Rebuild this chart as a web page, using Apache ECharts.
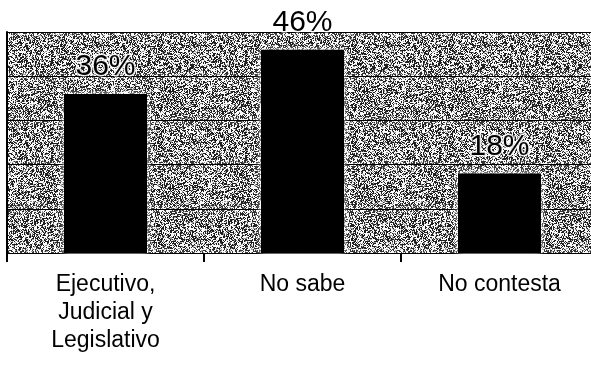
<!DOCTYPE html>
<html>
<head>
<meta charset="utf-8">
<script src="https://cdn.jsdelivr.net/npm/echarts@6/dist/echarts.min.js"></script>
<style>
  html, body { margin: 0; padding: 0; background: #fff; overflow: hidden; }
  /* the plot runs a few pixels past the right edge of the page */
  #chart { width: 598px; height: 368px; }
</style>
</head>
<body>
<div id="chart"></div>
<script>
// Survey answers and their shares (percent)
const categories = ['Ejecutivo,\nJudicial y\nLegislativo', 'No sabe', 'No contesta'];
const shares = [36, 46, 18];
const axisMax = 50;
const axisStep = 10;

// Stippled grey fill for the plot area, built from a fixed integer hash
function stippleTile(size) {
  const c = document.createElement('canvas');
  c.width = size; c.height = size;
  const ctx = c.getContext('2d');
  const img = ctx.createImageData(size, size);
  for (let y = 0; y < size; y++) {
    for (let x = 0; x < size; x++) {
      let h = (x * 374761393 + y * 668265263) | 0;
      h = Math.imul(h ^ (h >>> 13), 1274126177);
      h = (h ^ (h >>> 16)) >>> 0;
      const v = (h & 1023) / 1023;
      const g = v < 0.40 ? 30 : (v < 0.55 ? 150 : 250);
      const i = (y * size + x) * 4;
      img.data[i] = g; img.data[i + 1] = g; img.data[i + 2] = g; img.data[i + 3] = 255;
    }
  }
  ctx.putImageData(img, 0, 0);
  return c;
}

const chart = echarts.init(document.getElementById('chart'), null, { renderer: 'canvas' });
chart.setOption({
  animation: false,
  backgroundColor: '#fff',
  grid: {
    left: 7, right: 0, top: 32, bottom: 115,
    show: true,
    borderWidth: 0,
    backgroundColor: { image: stippleTile(97), repeat: 'repeat' }
  },
  xAxis: {
    type: 'category',
    data: categories,
    axisLine: { show: true, lineStyle: { color: '#000', width: 1 } },
    axisTick: { show: true, alignWithLabel: false, length: 9, lineStyle: { color: '#000', width: 2 } },
    axisLabel: {
      color: '#000', fontFamily: 'Liberation Sans, Arial, sans-serif',
      fontSize: 23, lineHeight: 28, margin: 18, interval: 0
    }
  },
  yAxis: {
    type: 'value',
    min: 0, max: axisMax, interval: axisStep,
    axisLabel: { show: false },
    axisTick: { show: false },
    axisLine: { show: true, lineStyle: { color: '#000', width: 2 } },
    splitLine: {
      show: true,
      lineStyle: { color: '#000', width: 1, shadowColor: '#fff', shadowBlur: 6 }
    }
  },
  series: [{
    type: 'bar',
    data: shares,
    barWidth: 83,
    itemStyle: { color: '#000', shadowColor: 'rgba(255,255,255,0.9)', shadowBlur: 6 },
    label: {
      show: true,
      position: 'top',
      distance: 12,
      formatter: p => p.value + '%',
      color: '#000',
      fontFamily: 'Liberation Sans, Arial, sans-serif',
      fontSize: 30,
      textBorderColor: 'rgba(255,255,255,0.85)',
      textBorderWidth: 3
    }
  }]
});
</script>
</body>
</html>
